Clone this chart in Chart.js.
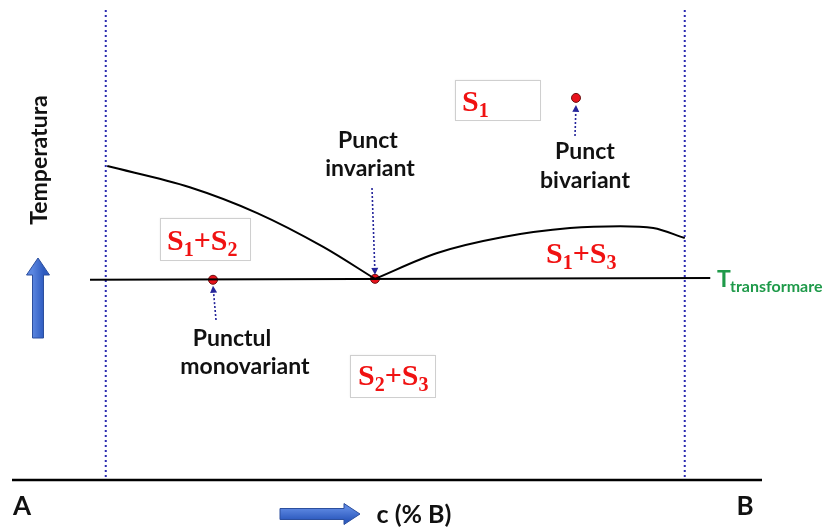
<!DOCTYPE html>
<html>
<head>
<meta charset="utf-8">
<script src="https://cdn.jsdelivr.net/npm/chart.js@4"></script>
<style>
  html, body { margin: 0; padding: 0; background: #fff; }
  #wrap { width: 826px; height: 529px; }
</style>
</head>
<body>
<div id="wrap"><canvas id="phaseChart" width="826" height="529"></canvas></div>
<script>
// composition c (% B) from A = 0 to B = 100, temperature in arbitrary units
var leftCurveC = [12.7, 23.7, 32.7, 41.5, 48.4];
var leftCurveT = [66.8, 62.3, 56.8, 49.6, 42.8];
var rightCurveC = [48.4, 56.7, 65.5, 74.4, 81.1, 85.5, 89.7];
var rightCurveT = [42.8, 48.3, 51.7, 53.6, 54.0, 53.6, 51.5];
var transformC = [10.4, 93.1];
var transformT = [42.6, 43.0];
var limitsC = [12.5, 89.7];
var pointNames = ['invariant', 'monovariant', 'bivariant'];
var pointC = [48.4, 26.8, 75.2];
var pointT = [42.8, 42.6, 81.3];

function xy(cs, ts) {
    return cs.map(function (c, i) { return { x: c, y: ts[i] }; });
}

var lineBase = {
    showLine: true,
    pointRadius: 0,
    fill: false,
    clip: false,
    borderColor: '#000',
    borderWidth: 2
};

var datasets = [
    Object.assign({}, lineBase, { data: [{ x: 0, y: 0 }, { x: 100, y: 0 }], borderWidth: 2.5 }),
    Object.assign({}, lineBase, { data: xy(transformC, transformT) }),
    Object.assign({}, lineBase, { data: xy(leftCurveC, leftCurveT), cubicInterpolationMode: 'monotone' }),
    Object.assign({}, lineBase, { data: xy(rightCurveC, rightCurveT), cubicInterpolationMode: 'monotone' })
];
limitsC.forEach(function (c) {
    datasets.push(Object.assign({}, lineBase, {
        data: [{ x: c, y: 100 }, { x: c, y: 0 }],
        borderColor: '#2b2bb0',
        borderWidth: 2,
        borderDash: [2, 3]
    }));
});
datasets.push({
    data: xy(pointC, pointT),
    showLine: false,
    clip: false,
    pointRadius: 4.5,
    pointBackgroundColor: '#e8121c',
    pointBorderColor: '#6b1010',
    pointBorderWidth: 1
});

var SANS = 'Lato, "Open Sans", sans-serif';
var SERIF = '"Liberation Serif", "Times New Roman", serif';

function phaseLabel(ctx, x, y, parts, box) {
    // parts: [text, sub] pairs, red serif
    ctx.save();
    if (box) {
        ctx.fillStyle = '#fff';
        ctx.strokeStyle = '#cfcfcf';
        ctx.lineWidth = 1;
        ctx.shadowColor = 'rgba(0,0,0,0.08)';
        ctx.shadowBlur = 2;
        ctx.fillRect(box[0], box[1], box[2], box[3]);
        ctx.shadowBlur = 0;
        ctx.strokeRect(box[0] + 0.5, box[1] + 0.5, box[2], box[3]);
    }
    var cx = x;
    ctx.fillStyle = '#f01212';
    ctx.textBaseline = 'alphabetic';
    ctx.textAlign = 'left';
    parts.forEach(function (p) {
        ctx.font = 'bold 30px ' + SERIF;
        ctx.fillText(p[0], cx, y);
        cx += ctx.measureText(p[0]).width;
        if (p[1]) {
            ctx.font = 'bold 20px ' + SERIF;
            ctx.fillText(p[1], cx, y + 6);
            cx += ctx.measureText(p[1]).width;
        }
    });
    ctx.restore();
}

function dottedArrow(ctx, x1, y1, x2, y2) {
    ctx.save();
    ctx.strokeStyle = '#25259a';
    ctx.fillStyle = '#25259a';
    ctx.lineWidth = 1.6;
    ctx.setLineDash([2, 2]);
    var a = Math.atan2(y2 - y1, x2 - x1);
    var hx = x2 - 7 * Math.cos(a), hy = y2 - 7 * Math.sin(a);
    ctx.beginPath();
    ctx.moveTo(x1, y1);
    ctx.lineTo(hx, hy);
    ctx.stroke();
    ctx.setLineDash([]);
    ctx.beginPath();
    ctx.moveTo(x2, y2);
    ctx.lineTo(hx + 3.5 * Math.sin(a), hy - 3.5 * Math.cos(a));
    ctx.lineTo(hx - 3.5 * Math.sin(a), hy + 3.5 * Math.cos(a));
    ctx.closePath();
    ctx.fill();
    ctx.restore();
}

function blockArrow(ctx, x, y, len, shaft, head, headLen, angle) {
    ctx.save();
    ctx.translate(x, y);
    ctx.rotate(angle);
    var grad = ctx.createLinearGradient(0, -shaft / 2, 0, shaft / 2);
    grad.addColorStop(0, '#5b86e0');
    grad.addColorStop(1, '#2f5cc0');
    ctx.fillStyle = grad;
    ctx.strokeStyle = '#2c4f9e';
    ctx.lineWidth = 1;
    ctx.beginPath();
    ctx.moveTo(0, -shaft / 2);
    ctx.lineTo(len - headLen, -shaft / 2);
    ctx.lineTo(len - headLen, -head / 2);
    ctx.lineTo(len, 0);
    ctx.lineTo(len - headLen, head / 2);
    ctx.lineTo(len - headLen, shaft / 2);
    ctx.lineTo(0, shaft / 2);
    ctx.closePath();
    ctx.fill();
    ctx.stroke();
    ctx.restore();
}

var annotations = {
    id: 'annotations',
    afterDatasetsDraw: function (chart) {
        var ctx = chart.ctx;
        var sx = chart.scales.x, sy = chart.scales.y;
        var px = function (c) { return sx.getPixelForValue(c); };
        var py = function (t) { return sy.getPixelForValue(t); };

        // dotted pointer arrows to the special points
        var inv = [px(pointC[0]), py(pointT[0])];
        var mono = [px(pointC[1]), py(pointT[1])];
        var biv = [px(pointC[2]), py(pointT[2])];
        dottedArrow(ctx, inv[0] - 3, 188, inv[0], inv[1] - 4);
        dottedArrow(ctx, mono[0] + 3, 320, mono[0], mono[1] + 6);
        dottedArrow(ctx, biv[0] - 1, 136, biv[0], biv[1] + 7);

        // phase region labels
        phaseLabel(ctx, 462, 111, [['S', '1']], [455, 80, 85, 40]);
        phaseLabel(ctx, 167, 250, [['S', '1'], ['+', ''], ['S', '2']], [160, 218, 90, 42]);
        phaseLabel(ctx, 358, 385, [['S', '2'], ['+', ''], ['S', '3']], [350, 355, 85, 42]);
        phaseLabel(ctx, 546, 263, [['S', '1'], ['+', ''], ['S', '3']], null);

        ctx.save();
        ctx.fillStyle = '#111';
        ctx.textAlign = 'center';
        ctx.textBaseline = 'middle';
        ctx.font = 'bold 23px ' + SANS;
        ctx.fillText('Punct', 368, 141);
        ctx.fillText('invariant', 370, 169);
        ctx.fillText('Punct', 585, 152);
        ctx.fillText('bivariant', 585, 181);
        ctx.fillText('Punctul', 232, 339);
        ctx.fillText('monovariant', 245, 367);

        ctx.font = 'bold 26px ' + SANS;
        ctx.fillText('A', 22, 507);
        ctx.fillText('B', 745, 507);
        ctx.font = 'bold 25px ' + SANS;
        ctx.fillText('c (% B)', 414, 515);

        ctx.save();
        ctx.translate(40, 160);
        ctx.rotate(-Math.PI / 2);
        ctx.font = 'bold 23px ' + SANS;
        ctx.fillText('Temperatura', 0, 0);
        ctx.restore();

        // T transformare label
        ctx.fillStyle = '#1f9a4a';
        ctx.textAlign = 'left';
        ctx.textBaseline = 'alphabetic';
        ctx.font = 'bold 23px ' + SANS;
        ctx.fillText('T', 717, py(transformT[1]) + 9);
        ctx.font = 'bold 16px ' + SANS;
        ctx.fillText('transformare', 730, py(transformT[1]) + 14);
        ctx.restore();

        // block arrows
        blockArrow(ctx, 38, 338, 80, 11, 23, 17, -Math.PI / 2);
        blockArrow(ctx, 280, 514, 80, 11, 21, 16, 0);
    }
};

new Chart(document.getElementById('phaseChart'), {
    type: 'scatter',
    data: { datasets: datasets },
    options: {
        responsive: false,
        animation: false,
        layout: { padding: { left: 12, right: 64, top: 10, bottom: 49 } },
        plugins: {
            legend: { display: false },
            tooltip: { enabled: false }
        },
        scales: {
            x: { type: 'linear', min: 0, max: 100, display: false },
            y: { type: 'linear', min: 0, max: 100, display: false }
        }
    },
    plugins: [annotations]
});
</script>
</body>
</html>
